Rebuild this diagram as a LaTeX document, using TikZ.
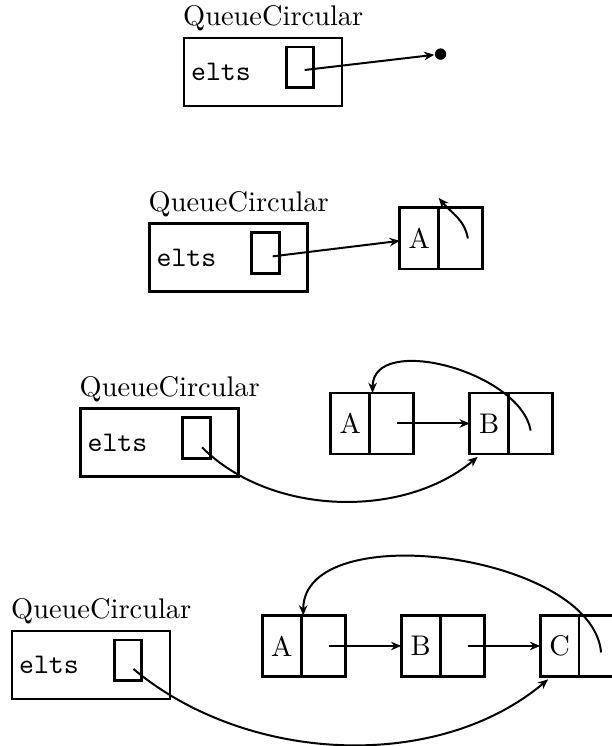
\documentclass[tikz,border=0pt]{standalone}
\usetikzlibrary{arrows.meta, positioning}

\begin{document}
\begin{tikzpicture}[
    x=0.352pt, y=-0.352pt,
    queuebox/.style={draw, line width=1pt, minimum width=55.6pt, minimum height=23.9pt},
    eltsbox/.style={draw, line width=1pt, minimum width=9.7pt, minimum height=14.4pt, anchor=east},
    datacell/.style={draw, line width=1pt, outer sep=0pt, inner sep=0pt, minimum width=13.7pt, minimum height=21.5pt},
    nextcell/.style={draw, line width=1pt, outer sep=0pt, minimum width=15.5pt, minimum height=21.5pt},
    classname/.style={anchor=base west, inner sep=0pt},
    field/.style={anchor=west, inner sep=0pt, font=\ttfamily},
    nilnode/.style={circle, fill, inner sep=0pt, minimum size=4pt},
    arrow/.style={-{Stealth[length=3.6pt, width=3pt]}, line width=0.7pt}
]
    \useasboundingbox (0,0) rectangle (611,746);

    % Empty queue
    \node[queuebox] (q1) at (263,72) {};
    \node[classname] (q1name) at ([yshift=3.9pt]q1.north west) {QueueCircular};
    \node[field] (q1field) at ([xshift=2.8pt]q1.west) {elts};
    \node[eltsbox] (q1elts) at ([xshift=-9.9pt, yshift=1.6pt]q1.east) {};
    \node[nilnode, right=32pt of q1, yshift=6.3pt] (nil1) {};
    \draw[arrow] ([shift={(1.6pt,-0.9pt)}]q1elts.center) -- (nil1);

    % One element
    \node[queuebox] (q2) at (228.5,257.5) {};
    \node[classname] (q2name) at ([yshift=3.9pt]q2.north west) {QueueCircular};
    \node[field] (q2field) at ([xshift=2.8pt]q2.west) {elts};
    \node[eltsbox] (q2elts) at ([xshift=-9.9pt, yshift=1.6pt]q2.east) {};
    \node[datacell, right=32pt of q2, yshift=6.7pt] (a2) {A};
    \node[nextcell, right=0pt of a2] (a2nxt) {};
    \draw[arrow] ([shift={(2.5pt,-1.2pt)}]q2elts.center) -- (a2);
    \draw[arrow] ([xshift=2.5pt]a2nxt.center) to[out=100, in=-50] ([yshift=3.5pt]a2.north east);

    % Two elements
    \node[queuebox] (q3) at (159.5,442.5) {};
    \node[classname] (q3name) at ([yshift=3.9pt]q3.north west) {QueueCircular};
    \node[field] (q3field) at ([xshift=2.8pt]q3.west) {elts};
    \node[eltsbox] (q3elts) at ([xshift=-9.9pt, yshift=1.6pt]q3.east) {};
    \node[datacell, right=32pt of q3, yshift=6.7pt] (a3) {A};
    \node[nextcell, right=0pt of a3] (a3nxt) {};
    \node[datacell, right=19.7pt of a3nxt] (b3) {B};
    \node[nextcell, right=0pt of b3] (b3nxt) {};
    \draw[arrow] ([xshift=2pt]a3nxt.center) -- (b3);
    \draw[arrow] ([yshift=-2.5pt]b3nxt.center) to[out=100, in=90, looseness=0.95] ([xshift=1pt]a3.north east);
    \draw[arrow] ([shift={(1.9pt,-3.3pt)}]q3elts.center) to[out=-45, in=-140, looseness=0.9] ([shift={(2.8pt,-1pt)}]b3.south west);

    % Three elements
    \node[queuebox] (q4) at (91,665) {};
    \node[classname] (q4name) at ([yshift=3.9pt]q4.north west) {QueueCircular};
    \node[field] (q4field) at ([xshift=2.8pt]q4.west) {elts};
    \node[eltsbox] (q4elts) at ([xshift=-9.9pt, yshift=1.6pt]q4.east) {};
    \node[datacell, right=32pt of q4, yshift=6.7pt] (a4) {A};
    \node[nextcell, right=0pt of a4] (a4nxt) {};
    \node[datacell, right=19.7pt of a4nxt] (b4) {B};
    \node[nextcell, right=0pt of b4] (b4nxt) {};
    \node[datacell, right=19.7pt of b4nxt] (c4) {C};
    \node[nextcell, right=0pt of c4] (c4nxt) {};
    \draw[arrow] ([xshift=2pt]a4nxt.center) -- (b4);
    \draw[arrow] ([xshift=2pt]b4nxt.center) -- (c4);
    \draw[arrow] ([yshift=-2.3pt]c4nxt.center) to[out=95, in=90, looseness=0.85] ([xshift=0.7pt]a4.north east);
    \draw[arrow] ([shift={(1.9pt,-3pt)}]q4elts.center) to[out=-40, in=-140, looseness=0.9] ([shift={(2.8pt,-1pt)}]c4.south west);

\end{tikzpicture}
\end{document}
